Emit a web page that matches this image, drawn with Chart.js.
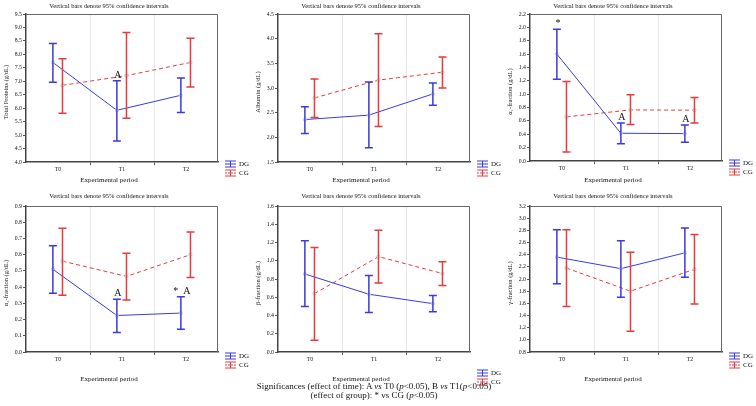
<!DOCTYPE html>
<html>
<head>
<meta charset="utf-8">
<script src="https://cdn.jsdelivr.net/npm/chart.js@4.4.0/dist/chart.umd.min.js"></script>
<style>
  body { margin: 0; background: #fff; width: 756px; height: 406px; overflow: hidden; position: relative; font-family: "Liberation Serif", serif; }
  canvas { position: absolute; }
  #note { position: absolute; left: 0; width: 748px; top: 382px; text-align: center; font-size: 9px; line-height: 8.5px; color: #111; white-space: nowrap; }
</style>
</head>
<body>
<canvas id="c0" width="252" height="190" style="left:0;top:0"></canvas>
<canvas id="c1" width="252" height="190" style="left:252px;top:0"></canvas>
<canvas id="c2" width="252" height="190" style="left:504px;top:0"></canvas>
<canvas id="c3" width="252" height="200" style="left:0;top:192px"></canvas>
<canvas id="c4" width="252" height="200" style="left:252px;top:192px"></canvas>
<canvas id="c5" width="252" height="200" style="left:504px;top:192px"></canvas>
<div id="note">Significances (effect of time): A <i>vs</i> T0 (<i>p</i>&lt;0.05), B <i>vs</i> T1(<i>p</i>&lt;0.05)<br>(effect of group): * vs CG (<i>p</i>&lt;0.05)</div>
<script>
const categories = ['T0', 'T1', 'T2'];

// Total proteins
const tpDG     = [7.70, 5.92, 6.48];
const tpDGLow  = [6.96, 4.78, 5.84];
const tpDGHigh = [8.40, 7.02, 7.12];
const tpCG     = [6.85, 7.21, 7.70];
const tpCGLow  = [5.81, 5.63, 6.79];
const tpCGHigh = [7.84, 8.81, 8.60];

// Albumin
const albDG     = [2.36, 2.45, 2.88];
const albDGLow  = [2.08, 1.79, 2.65];
const albDGHigh = [2.62, 3.12, 3.10];
const albCG     = [2.80, 3.16, 3.32];
const albCGLow  = [2.40, 2.22, 3.00];
const albCGHigh = [3.18, 4.10, 3.63];

// alpha1 fraction
const a1DG     = [1.60, 0.415, 0.41];
const a1DGLow  = [1.225, 0.26, 0.28];
const a1DGHigh = [1.97, 0.57, 0.54];
const a1CG     = [0.66, 0.765, 0.76];
const a1CGLow  = [0.135, 0.545, 0.57];
const a1CGHigh = [1.19, 0.99, 0.95];

// alpha2 fraction
const a2DG     = [0.51, 0.225, 0.24];
const a2DGLow  = [0.362, 0.12, 0.14];
const a2DGHigh = [0.655, 0.325, 0.34];
const a2CG     = [0.56, 0.466, 0.60];
const a2CGLow  = [0.35, 0.32, 0.46];
const a2CGHigh = [0.763, 0.608, 0.74];

// beta fraction
const bDG     = [0.855, 0.633, 0.53];
const bDGLow  = [0.50, 0.432, 0.44];
const bDGHigh = [1.22, 0.837, 0.62];
const bCG     = [0.64, 1.045, 0.86];
const bCGLow  = [0.13, 0.757, 0.73];
const bCGHigh = [1.144, 1.334, 0.99];

// gamma fraction
const gDG     = [2.36, 2.17, 2.43];
const gDGLow  = [1.92, 1.70, 2.03];
const gDGHigh = [2.81, 2.63, 2.84];
const gCG     = [2.18, 1.80, 2.16];
const gCGLow  = [1.55, 1.14, 1.59];
const gCGHigh = [2.81, 2.44, 2.73];

const BLUE = '#3a3ade';
const RED = '#e8393c';
const FONT = '"Liberation Serif", "Times New Roman", serif';
const DG_SHIFT = -0.08, CG_SHIFT = 0.07;

const panels = [
  { id: 'c0', yTitle: 'Total Proteins (g/dL)', min: 4, max: 9.5, step: 0.5,
    dg: [tpDG, tpDGLow, tpDGHigh], cg: [tpCG, tpCGLow, tpCGHigh],
    notes: [{ i: 1, text: 'A' }], titleY: 6, xTitleY: 180, legendY: 164, bottom: 162 },
  { id: 'c1', yTitle: 'Albumin (g/dL)', min: 1.5, max: 4.5, step: 0.5,
    dg: [albDG, albDGLow, albDGHigh], cg: [albCG, albCGLow, albCGHigh],
    notes: [], titleY: 6, xTitleY: 180, legendY: 164, bottom: 162 },
  { id: 'c2', yTitle: 'α₁-fraction (g/dL)', min: 0, max: 2.2, step: 0.2,
    dg: [a1DG, a1DGLow, a1DGHigh], cg: [a1CG, a1CGLow, a1CGHigh],
    notes: [{ i: 0, text: '*' }, { i: 1, text: 'A' }, { i: 2, text: 'A' }], titleY: 6, xTitleY: 180, legendY: 163, bottom: 161 },
  { id: 'c3', yTitle: 'α₂-fraction (g/dL)', min: 0, max: 0.9, step: 0.1,
    dg: [a2DG, a2DGLow, a2DGHigh], cg: [a2CG, a2CGLow, a2CGHigh],
    notes: [{ i: 1, text: 'A' }, { i: 2, text: '*  A' }], titleY: 4, xTitleY: 187, legendY: 164, bottom: 160 },
  { id: 'c4', yTitle: 'β-fraction (g/dL)', min: 0, max: 1.6, step: 0.2,
    dg: [bDG, bDGLow, bDGHigh], cg: [bCG, bCGLow, bCGHigh],
    notes: [], titleY: 4, xTitleY: 187, legendY: 181, bottom: 160 },
  { id: 'c5', yTitle: 'γ-fraction (g/dL)', min: 0.8, max: 3.2, step: 0.2,
    dg: [gDG, gDGLow, gDGHigh], cg: [gCG, gCGLow, gCGHigh],
    notes: [], titleY: 4, xTitleY: 187, legendY: 164, bottom: 160 }
];

// error bars, drawn from each dataset's low/high arrays
const errorBars = {
  id: 'errorBars',
  afterDatasetsDraw(chart) {
    const ctx = chart.ctx, xs = chart.scales.x, ys = chart.scales.y;
    chart.data.datasets.forEach(function (ds) {
      ctx.save();
      ctx.strokeStyle = ds.borderColor;
      ctx.lineWidth = 1.5;
      ds.data.forEach(function (p, i) {
        const x = xs.getPixelForValue(p.x);
        const yl = ys.getPixelForValue(ds.errLow[i]);
        const yh = ys.getPixelForValue(ds.errHigh[i]);
        ctx.beginPath();
        ctx.moveTo(x, yl); ctx.lineTo(x, yh);
        ctx.moveTo(x - 4, yl); ctx.lineTo(x + 4, yl);
        ctx.moveTo(x - 4, yh); ctx.lineTo(x + 4, yh);
        ctx.stroke();
      });
      ctx.restore();
    });
  }
};

// titles, frame, legend and significance letters
const decorations = {
  id: 'decorations',
  afterDraw(chart) {
    const ctx = chart.ctx, a = chart.chartArea, o = chart.options.plugins.decorations;
    const xs = chart.scales.x, ys = chart.scales.y;
    ctx.save();
    ctx.strokeStyle = '#666';
    ctx.lineWidth = 1;
    ctx.beginPath();
    ctx.moveTo(a.left, a.top + 0.5); ctx.lineTo(a.right - 0.5, a.top + 0.5); ctx.lineTo(a.right - 0.5, a.bottom);
    ctx.stroke();

    ctx.fillStyle = '#111';
    ctx.textAlign = 'center';
    ctx.textBaseline = 'middle';
    ctx.font = '6.5px ' + FONT;
    ctx.fillText('Vertical bars denote 95% confidence intervals', a.right / 2, o.titleY);
    ctx.font = '7px ' + FONT;
    ctx.fillText('Experimental period', a.right / 2, o.xTitleY);

    ctx.save();
    ctx.translate(6, (a.top + a.bottom) / 2 + 4);
    ctx.rotate(-Math.PI / 2);
    ctx.font = '6.5px ' + FONT;
    ctx.fillText(o.yTitle, 0, 0);
    ctx.restore();

    // significance marks above the DG upper limits
    ctx.font = '10px ' + FONT;
    ctx.textBaseline = 'alphabetic';
    const dg = chart.data.datasets[0];
    o.notes.forEach(function (n) {
      const x = xs.getPixelForValue(n.i + DG_SHIFT) + 1;
      const y = ys.getPixelForValue(dg.errHigh[n.i]) - 3;
      ctx.fillText(n.text, x, y);
    });

    // legend
    const lx = a.right + 7;
    [[BLUE, 'DG', []], [RED, 'CG', [2, 1]]].forEach(function (item, k) {
      const y = o.legendY + k * 9;
      ctx.strokeStyle = item[0];
      ctx.lineWidth = 1;
      ctx.beginPath();
      ctx.moveTo(lx, y - 3); ctx.lineTo(lx + 11, y - 3);
      ctx.moveTo(lx, y + 3); ctx.lineTo(lx + 11, y + 3);
      ctx.moveTo(lx + 5.5, y - 3); ctx.lineTo(lx + 5.5, y + 3);
      ctx.stroke();
      ctx.setLineDash(item[2]);
      ctx.beginPath();
      ctx.moveTo(lx, y); ctx.lineTo(lx + 11, y);
      ctx.stroke();
      ctx.setLineDash([]);
      ctx.fillStyle = '#111';
      ctx.font = '7px ' + FONT;
      ctx.textAlign = 'left';
      ctx.textBaseline = 'middle';
      ctx.fillText(item[1], lx + 14, y);
    });
    ctx.restore();
  }
};

panels.forEach(function (p) {
  const canvas = document.getElementById(p.id);
  const H = canvas.height;
  const makeSet = function (label, src, shift, color, dash) {
    return {
      label: label,
      data: src[0].map(function (v, i) { return { x: i + shift, y: v }; }),
      errLow: src[1],
      errHigh: src[2],
      borderColor: color,
      borderWidth: 1,
      borderDash: dash,
      pointRadius: 1.6,
      pointBorderWidth: 0.8,
      pointBackgroundColor: '#fff',
      pointBorderColor: '#bbb',
      tension: 0
    };
  };

  new Chart(canvas, {
    type: 'line',
    data: {
      datasets: [
        makeSet('DG', p.dg, DG_SHIFT, BLUE, []),
        makeSet('CG', p.cg, CG_SHIFT, RED, [4, 3])
      ]
    },
    options: {
      responsive: false,
      animation: false,
      layout: { padding: { top: 14, right: 34, left: 0, bottom: 0 } },
      plugins: {
        legend: { display: false },
        tooltip: { enabled: false },
        decorations: { yTitle: p.yTitle, notes: p.notes, titleY: p.titleY, xTitleY: p.xTitleY, legendY: p.legendY }
      },
      scales: {
        x: {
          type: 'linear',
          min: -0.5,
          max: 2.5,
          afterBuildTicks: function (s) {
            s.ticks = [-0.5, 0, 0.5, 1, 1.5, 2, 2.5].map(function (v) { return { value: v }; });
          },
          afterFit: function (s) { s.height = H - p.bottom; },
          ticks: {
            autoSkip: false,
            maxRotation: 0,
            padding: 1,
            color: '#111',
            font: { family: FONT, size: 5.8 },
            callback: function (v) { return Number.isInteger(v) ? categories[v] : ''; }
          },
          grid: {
            tickLength: 3,
            color: function (c) {
              const v = c.tick ? c.tick.value : 0;
              return (v === 0.5 || v === 1.5) ? '#e8e8e8' : 'rgba(0,0,0,0)';
            },
            tickColor: function (c) {
              const v = c.tick ? c.tick.value : 0;
              return (v === 0.5 || v === 1.5) ? '#555' : 'rgba(0,0,0,0)';
            }
          },
          border: { color: '#444', width: 1.5 }
        },
        y: {
          min: p.min,
          max: p.max,
          afterFit: function (s) { s.width = 26; },
          ticks: {
            stepSize: p.step,
            autoSkip: false,
            padding: 1,
            color: '#111',
            font: { family: FONT, size: 5.8 },
            callback: function (v) { return v.toFixed(1); }
          },
          grid: { drawOnChartArea: false, tickLength: 3, tickColor: '#555' },
          border: { color: '#444', width: 1.5 }
        }
      }
    },
    plugins: [errorBars, decorations]
  });
});
</script>
</body>
</html>
